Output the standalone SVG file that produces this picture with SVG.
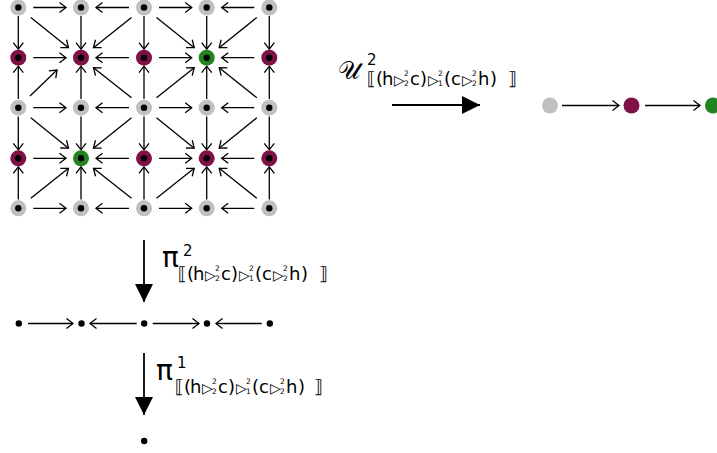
<svg xmlns="http://www.w3.org/2000/svg" width="717" height="453" viewBox="0 0 717 453">
<style>
.g{fill:#c0c0c0}.m{fill:#7f1147}.v{fill:#23841f}
.d{fill:#000}
.e{stroke:#000;stroke-width:1.3;fill:none;marker-end:url(#a)}
.E{stroke:#000;stroke-width:1.8;fill:none;marker-end:url(#b)}
text{font-family:"DejaVu Sans","Noto Sans",sans-serif;fill:#000}
.t{font-size:18px}.k{font-size:18px}.s{font-size:14px}.n{font-size:7.5px}
.U{font-size:25px;font-family:"DejaVu Serif","Noto Sans",serif}
.p{font-size:28px}.q{font-size:15px}
</style>
<defs>
<marker id="a" viewBox="-8 -6 10 12" markerWidth="10" markerHeight="12" refX="0" refY="0" orient="auto" markerUnits="userSpaceOnUse"><path d="M-6.5,-5 L0,0 L-6.5,5" fill="none" stroke="#000" stroke-width="1.3"/></marker>
<marker id="b" viewBox="-19 -10 20 20" markerWidth="20" markerHeight="20" refX="0" refY="0" orient="auto" markerUnits="userSpaceOnUse"><path d="M-18,-9 L0,0 L-18,9 z" fill="#000"/></marker>
</defs>
<g id="connectors">
<path class="e" d="M33.3,7.5H66"/><path class="e" d="M129,7.5H96"/><path class="e" d="M159,7.5H191.7"/><path class="e" d="M254.3,7.5H221.7"/>
<path class="e" d="M33.3,57.7H66"/><path class="e" d="M129,57.7H96"/><path class="e" d="M159,57.7H191.7"/><path class="e" d="M254.3,57.7H221.7"/>
<path class="e" d="M33.3,107.7H66"/><path class="e" d="M129,107.7H96"/><path class="e" d="M159,107.7H191.7"/><path class="e" d="M254.3,107.7H221.7"/>
<path class="e" d="M33.3,158.3H66"/><path class="e" d="M129,158.3H96"/><path class="e" d="M159,158.3H191.7"/><path class="e" d="M254.3,158.3H221.7"/>
<path class="e" d="M33.3,208.3H66"/><path class="e" d="M129,208.3H96"/><path class="e" d="M159,208.3H191.7"/><path class="e" d="M254.3,208.3H221.7"/>
<path class="e" d="M18.3,16V49.2"/><path class="e" d="M18.3,99V66.2"/><path class="e" d="M18.3,116.4V149.8"/><path class="e" d="M18.3,199.6V166.8"/>
<path class="e" d="M81,16V49.2"/><path class="e" d="M81,99V66.2"/><path class="e" d="M81,116.4V149.8"/><path class="e" d="M81,199.6V166.8"/>
<path class="e" d="M144,16V49.2"/><path class="e" d="M144,99V66.2"/><path class="e" d="M144,116.4V149.8"/><path class="e" d="M144,199.6V166.8"/>
<path class="e" d="M206.7,16V49.2"/><path class="e" d="M206.7,99V66.2"/><path class="e" d="M206.7,116.4V149.8"/><path class="e" d="M206.7,199.6V166.8"/>
<path class="e" d="M269.3,16V49.2"/><path class="e" d="M269.3,99V66.2"/><path class="e" d="M269.3,116.4V149.8"/><path class="e" d="M269.3,199.6V166.8"/>
<path class="e" d="M30.8,17.5L68.5,47.7"/><path class="e" d="M131.5,17.5L93.5,47.7"/><path class="e" d="M156.5,17.5L194.2,47.7"/><path class="e" d="M256.8,17.5L219.2,47.7"/>
<path class="e" d="M30,96L57,70"/><path class="e" d="M131.5,97.7L93.5,67.7"/><path class="e" d="M156.5,97.7L194.2,67.7"/><path class="e" d="M256.8,97.7L219.2,67.7"/>
<path class="e" d="M30.8,117.8L68.5,148.2"/><path class="e" d="M131.5,117.8L93.5,148.2"/><path class="e" d="M156.5,117.8L194.2,148.2"/><path class="e" d="M256.8,117.8L219.2,148.2"/>
<path class="e" d="M30.8,198.3L68.5,168.3"/><path class="e" d="M131.5,198.3L93.5,168.3"/><path class="e" d="M156.5,198.3L194.2,168.3"/><path class="e" d="M256.8,198.3L219.2,168.3"/>
<path class="e" d="M562,105.5H619"/><path class="e" d="M645,105.5H700"/>
<path class="e" d="M28,323.5H73"/><path class="e" d="M136.7,323.5H90"/><path class="e" d="M152.7,323.5H199"/><path class="e" d="M261.7,323.5H216"/>
<path class="E" d="M392,105H480"/>
<path class="E" d="M144,240V302"/>
<path class="E" d="M144,353V415"/>
</g>
<g id="n00"><circle class="g" cx="18.3" cy="7.5" r="8"/><circle class="d" cx="18.3" cy="7.5" r="3.2"/></g>
<g id="n10"><circle class="g" cx="81" cy="7.5" r="8"/><circle class="d" cx="81" cy="7.5" r="3.2"/></g>
<g id="n20"><circle class="g" cx="144" cy="7.5" r="8"/><circle class="d" cx="144" cy="7.5" r="3.2"/></g>
<g id="n30"><circle class="g" cx="206.7" cy="7.5" r="8"/><circle class="d" cx="206.7" cy="7.5" r="3.2"/></g>
<g id="n40"><circle class="g" cx="269.3" cy="7.5" r="8"/><circle class="d" cx="269.3" cy="7.5" r="3.2"/></g>
<g id="n01"><circle class="m" cx="18.3" cy="57.7" r="8"/><circle class="d" cx="18.3" cy="57.7" r="3.2"/></g>
<g id="n11"><circle class="m" cx="81" cy="57.7" r="8"/><circle class="d" cx="81" cy="57.7" r="3.2"/></g>
<g id="n21"><circle class="m" cx="144" cy="57.7" r="8"/><circle class="d" cx="144" cy="57.7" r="3.2"/></g>
<g id="n31"><circle class="v" cx="206.7" cy="57.7" r="8"/><circle class="d" cx="206.7" cy="57.7" r="3.2"/></g>
<g id="n41"><circle class="m" cx="269.3" cy="57.7" r="8"/><circle class="d" cx="269.3" cy="57.7" r="3.2"/></g>
<g id="n02"><circle class="g" cx="18.3" cy="107.7" r="8"/><circle class="d" cx="18.3" cy="107.7" r="3.2"/></g>
<g id="n12"><circle class="g" cx="81" cy="107.7" r="8"/><circle class="d" cx="81" cy="107.7" r="3.2"/></g>
<g id="n22"><circle class="g" cx="144" cy="107.7" r="8"/><circle class="d" cx="144" cy="107.7" r="3.2"/></g>
<g id="n32"><circle class="g" cx="206.7" cy="107.7" r="8"/><circle class="d" cx="206.7" cy="107.7" r="3.2"/></g>
<g id="n42"><circle class="g" cx="269.3" cy="107.7" r="8"/><circle class="d" cx="269.3" cy="107.7" r="3.2"/></g>
<g id="n03"><circle class="m" cx="18.3" cy="158.3" r="8"/><circle class="d" cx="18.3" cy="158.3" r="3.2"/></g>
<g id="n13"><circle class="v" cx="81" cy="158.3" r="8"/><circle class="d" cx="81" cy="158.3" r="3.2"/></g>
<g id="n23"><circle class="m" cx="144" cy="158.3" r="8"/><circle class="d" cx="144" cy="158.3" r="3.2"/></g>
<g id="n33"><circle class="m" cx="206.7" cy="158.3" r="8"/><circle class="d" cx="206.7" cy="158.3" r="3.2"/></g>
<g id="n43"><circle class="m" cx="269.3" cy="158.3" r="8"/><circle class="d" cx="269.3" cy="158.3" r="3.2"/></g>
<g id="n04"><circle class="g" cx="18.3" cy="208.3" r="8"/><circle class="d" cx="18.3" cy="208.3" r="3.2"/></g>
<g id="n14"><circle class="g" cx="81" cy="208.3" r="8"/><circle class="d" cx="81" cy="208.3" r="3.2"/></g>
<g id="n24"><circle class="g" cx="144" cy="208.3" r="8"/><circle class="d" cx="144" cy="208.3" r="3.2"/></g>
<g id="n34"><circle class="g" cx="206.7" cy="208.3" r="8"/><circle class="d" cx="206.7" cy="208.3" r="3.2"/></g>
<g id="n44"><circle class="g" cx="269.3" cy="208.3" r="8"/><circle class="d" cx="269.3" cy="208.3" r="3.2"/></g>
<g id="r0"><circle class="g" cx="550" cy="105.5" r="8"/></g>
<g id="r1"><circle class="m" cx="631.5" cy="105.5" r="8"/></g>
<g id="r2"><circle class="v" cx="713" cy="105.5" r="8"/></g>
<g id="b0"><circle class="d" cx="18.8" cy="323.5" r="3.2"/></g>
<g id="b1"><circle class="d" cx="81.5" cy="323.5" r="3.2"/></g>
<g id="b2"><circle class="d" cx="144.2" cy="323.5" r="3.2"/></g>
<g id="b3"><circle class="d" cx="207" cy="323.5" r="3.2"/></g>
<g id="b4"><circle class="d" cx="269.8" cy="323.5" r="3.2"/></g>
<g id="c0"><circle class="d" cx="144.2" cy="441" r="3.2"/></g>
<g id="label-U">
<text class="U" x="338" y="79">𝒰</text>
<text class="q" x="367" y="64.5">2</text>
<text y="85"><tspan class="k" x="367">⟦</tspan><tspan class="t" x="376">(</tspan><tspan class="t" x="382">h</tspan><tspan class="s" x="394">▷</tspan><tspan class="t" x="410">c</tspan><tspan class="t" x="420">)</tspan><tspan class="s" x="428">▷</tspan><tspan class="t" x="444">(</tspan><tspan class="t" x="451">c</tspan><tspan class="s" x="462">▷</tspan><tspan class="t" x="478">h</tspan><tspan class="t" x="490">)</tspan><tspan class="k" x="508">⟧</tspan></text>
<text class="n"><tspan x="404" y="76">2</tspan><tspan x="404" y="85.5">2</tspan><tspan x="438" y="76">2</tspan><tspan x="438" y="85.5">1</tspan><tspan x="472" y="76">2</tspan><tspan x="472" y="85.5">2</tspan></text>
</g>
<g id="label-pi2">
<text class="p" x="162" y="267">π</text>
<text class="q" x="183" y="256">2</text>
<text y="280"><tspan class="k" x="178">⟦</tspan><tspan class="t" x="187">(</tspan><tspan class="t" x="193">h</tspan><tspan class="s" x="205">▷</tspan><tspan class="t" x="221">c</tspan><tspan class="t" x="231">)</tspan><tspan class="s" x="239">▷</tspan><tspan class="t" x="255">(</tspan><tspan class="t" x="262">c</tspan><tspan class="s" x="273">▷</tspan><tspan class="t" x="289">h</tspan><tspan class="t" x="301">)</tspan><tspan class="k" x="319">⟧</tspan></text>
<text class="n"><tspan x="215" y="271">2</tspan><tspan x="215" y="280.5">2</tspan><tspan x="249" y="271">2</tspan><tspan x="249" y="280.5">1</tspan><tspan x="283" y="271">2</tspan><tspan x="283" y="280.5">2</tspan></text>
</g>
<g id="label-pi1">
<text class="p" x="156" y="380">π</text>
<text class="q" x="177" y="368">1</text>
<text y="393"><tspan class="k" x="175">⟦</tspan><tspan class="t" x="184">(</tspan><tspan class="t" x="190">h</tspan><tspan class="s" x="202">▷</tspan><tspan class="t" x="218">c</tspan><tspan class="t" x="228">)</tspan><tspan class="s" x="236">▷</tspan><tspan class="t" x="252">(</tspan><tspan class="t" x="259">c</tspan><tspan class="s" x="270">▷</tspan><tspan class="t" x="286">h</tspan><tspan class="t" x="298">)</tspan><tspan class="k" x="314">⟧</tspan></text>
<text class="n"><tspan x="212" y="384">2</tspan><tspan x="212" y="393.5">2</tspan><tspan x="246" y="384">2</tspan><tspan x="246" y="393.5">1</tspan><tspan x="280" y="384">2</tspan><tspan x="280" y="393.5">2</tspan></text>
</g>
</svg>
